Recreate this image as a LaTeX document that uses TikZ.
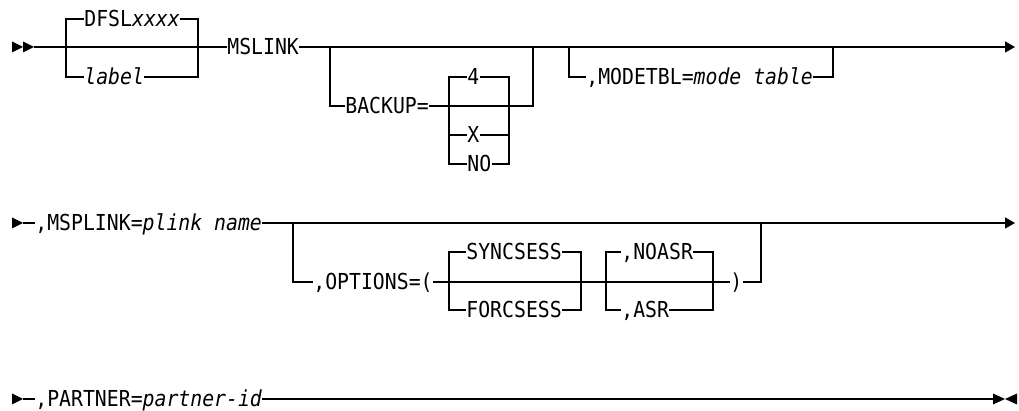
\documentclass[tikz,border=0pt]{standalone}
\usepackage{fontspec}
\setmonofont[FakeStretch=0.9]{DejaVu Sans Mono}
\usetikzlibrary{arrows.meta}
\begin{document}
\begin{tikzpicture}[x=0.5pt,y=-0.5pt,
  rail/.style={line width=0.65pt},
  endtip/.style={-{Triangle[length=5pt,width=5.5pt]}},
  lab/.style={font=\ttfamily\fontsize{11pt}{13pt}\selectfont, inner sep=0pt,
    text height=8pt, text depth=0pt, anchor=west},
  tip/.style={fill=black}]
\useasboundingbox (0,0) rectangle (1019,411);

% ---------- Row 1 ----------
\fill[tip] (12,41.5) -- (23,47) -- (12,52.5) -- cycle;
\fill[tip] (23,41.5) -- (34,47) -- (23,52.5) -- cycle;
\coordinate (s1) at (34,47);
\node[lab] (dfsl) at (84,19) {DFSL\textit{xxxx}};
\node[lab] (lbl) at (84,77) {\textit{label}};
\coordinate (a1) at (66,47);
\coordinate (a2) at (198,47);
\node[lab] (mslink) at (227,47) {MSLINK};
\draw[rail] (s1) -- (mslink.west);
\draw[rail] (lbl.west) -| (a1) |- (dfsl.west);
\draw[rail] (dfsl.east) -| (a2) |- (lbl.east);
\draw[rail,endtip] (mslink.east) -- (1015,47);

% BACKUP group
\coordinate (b1) at (330,47);
\coordinate (b2) at (533,47);
\node[lab] (backup) at (345,106) {BACKUP=};
\coordinate (c1) at (449,106);
\coordinate (c2) at (509,106);
\node[lab] (b4) at (467,77) {4};
\node[lab] (bx) at (467,135) {X};
\node[lab] (bno) at (467,164) {NO};
\draw[rail] (b1) |- (backup.west);
\draw[rail] (backup.east) -- (c2) -| (b2);
\draw[rail] (b4.west) -| (c1) |- (bno.west);
\draw[rail] (c1) |- (bx.west);
\draw[rail] (b4.east) -| (c2) |- (bno.east);
\draw[rail] (bx.east) -| (c2);

% MODETBL group
\coordinate (m1) at (569,47);
\coordinate (m2) at (833,47);
\node[lab] (modetbl) at (586,77) {,MODETBL=\textit{mode table}};
\draw[rail] (m1) |- (modetbl.west);
\draw[rail] (modetbl.east) -| (m2);

% ---------- Row 2 ----------
\fill[tip] (12,217.5) -- (23,223) -- (12,228.5) -- cycle;
\coordinate (s2) at (23,223);
\node[lab] (msplink) at (35,223) {,MSPLINK=\textit{plink name}};
\draw[rail] (s2) -- (msplink.west);
\draw[rail,endtip] (msplink.east) -- (1015,223);

\coordinate (o1) at (293,223);
\coordinate (o2) at (761,223);
\node[lab] (options) at (313,282) {,OPTIONS=(};
\coordinate (p1) at (449,282);
\coordinate (p2) at (581,282);
\node[lab] (sync) at (466,252) {SYNCSESS};
\node[lab] (force) at (466,310) {FORCSESS};
\coordinate (q1) at (606,282);
\coordinate (q2) at (713,282);
\node[lab] (noasr) at (621,252) {,NOASR};
\node[lab] (asr) at (621,310) {,ASR};
\node[lab] (rparen) at (730,282) {)};
\draw[rail] (o1) |- (options.west);
\draw[rail] (options.east) -- (rparen.west);
\draw[rail] (rparen.east) -| (o2);
\draw[rail] (sync.west) -| (p1) |- (force.west);
\draw[rail] (sync.east) -| (p2) |- (force.east);
\draw[rail] (noasr.west) -| (q1) |- (asr.west);
\draw[rail] (noasr.east) -| (q2) |- (asr.east);

% ---------- Row 3 ----------
\fill[tip] (12,393.5) -- (23,399) -- (12,404.5) -- cycle;
\coordinate (s3) at (23,399);
\node[lab] (partner) at (35,399) {,PARTNER=\textit{partner-id}};
\coordinate (e3) at (993,399);
\draw[rail] (s3) -- (partner.west);
\draw[rail] (partner.east) -- (e3);
\fill[tip] (993,393.5) -- (1005,399) -- (993,404.5) -- cycle;
\fill[tip] (1017,393.5) -- (1005,399) -- (1017,404.5) -- cycle;
\end{tikzpicture}
\end{document}
